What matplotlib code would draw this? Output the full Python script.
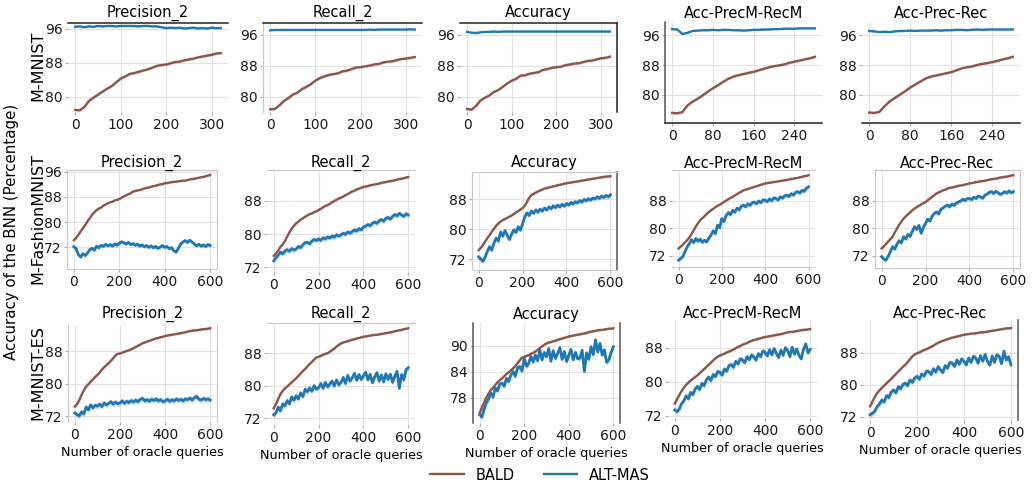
import numpy as np
import matplotlib
matplotlib.use("Agg")
import matplotlib.pyplot as plt
from matplotlib.lines import Line2D

# ---------------- data ----------------
queries_mnist = np.arange(0, 321, 10)      # M-MNIST, first three metrics
queries_mnist_b = np.arange(0, 281, 10)    # M-MNIST, combined metrics
queries_600 = np.arange(0, 601, 10)        # M-FashionMNIST and M-MNIST-ES

metrics = ['Precision_2', 'Recall_2', 'Accuracy', 'Acc-PrecM-RecM', 'Acc-Prec-Rec']
datasets = ['M-MNIST', 'M-FashionMNIST', 'M-MNIST-ES']
methods = ['BALD', 'ALT-MAS']

# M-MNIST
mnist_prec_bald = [76.9,76.8,77.6,79.0,79.8,80.5,81.2,81.9,82.5,83.4,84.3,84.8,85.4,85.6,85.9,86.2,86.5,86.9,87.3,87.5,87.6,87.9,88.2,88.3,88.6,88.8,89.0,89.3,89.5,89.7,89.9,90.2,90.3]
mnist_prec_alt = [96.5,96.6,96.4,96.6,96.5,96.7,96.6,96.7,96.7,96.6,96.7,96.7,96.7,96.7,96.6,96.7,96.7,96.6,96.6,96.4,96.2,96.3,96.2,96.3,96.1,96.2,96.3,96.1,96.2,96.1,96.3,96.2,96.2]
mnist_rec_bald = [76.8,76.9,77.8,78.9,79.7,80.6,81.1,82.0,82.6,83.3,84.2,84.9,85.3,85.7,85.9,86.1,86.6,86.8,87.2,87.6,87.7,87.9,88.1,88.4,88.5,88.9,89.1,89.2,89.5,89.8,89.9,90.1,90.3]
mnist_rec_alt = [97.2,97.3,97.3,97.3,97.3,97.3,97.3,97.3,97.3,97.3,97.3,97.3,97.3,97.3,97.3,97.3,97.3,97.3,97.3,97.3,97.3,97.3,97.4,97.3,97.4,97.4,97.4,97.4,97.4,97.4,97.4,97.5,97.4]
mnist_acc_bald = [76.9,76.7,77.7,79.1,79.8,80.4,81.3,81.8,82.6,83.5,84.2,84.7,85.5,85.6,86.0,86.2,86.4,87.0,87.2,87.5,87.7,87.8,88.2,88.4,88.6,88.7,89.0,89.3,89.4,89.7,90.0,90.1,90.4]
mnist_acc_alt = [96.8,96.6,96.5,96.7,96.8,96.8,96.9,96.8,96.9,96.9,96.9,96.9,96.9,96.9,96.9,96.9,96.9,96.9,96.9,96.9,96.9,96.9,96.9,96.9,96.9,96.9,96.9,96.9,96.9,96.9,96.9,96.9,96.9]
mnist_aprm_bald = [75.2,75.1,75.4,77.2,78.2,79.0,79.9,80.9,81.8,82.6,83.5,84.3,84.9,85.3,85.6,85.9,86.2,86.6,87.0,87.4,87.7,87.9,88.2,88.6,88.9,89.2,89.5,89.8,90.2]
mnist_aprm_alt = [97.6,97.5,96.3,96.6,97.1,97.2,97.3,97.3,97.4,97.3,97.4,97.4,97.3,97.3,97.2,97.3,97.4,97.4,97.5,97.5,97.6,97.6,97.7,97.7,97.7,97.8,97.8,97.8,97.8]
mnist_apr_bald = [75.3,75.2,75.5,77.0,78.3,79.2,80.1,81.0,82.0,82.8,83.6,84.4,84.9,85.2,85.5,85.8,86.1,86.6,87.1,87.4,87.6,88.0,88.3,88.5,88.8,89.1,89.5,89.8,90.2]
mnist_apr_alt = [97.1,97.0,96.8,96.9,96.8,97.0,97.1,97.1,97.2,97.1,97.2,97.2,97.2,97.3,97.2,97.3,97.3,97.4,97.4,97.3,97.4,97.5,97.4,97.5,97.5,97.5,97.5,97.5,97.5]

# M-FashionMNIST
fash_prec_bald = [74.2,74.9,75.9,77.0,78.0,79.0,80.2,81.2,82.3,83.1,
                  83.8,84.3,84.6,85.2,85.6,86.0,86.3,86.5,86.9,87.1,
                  87.3,87.8,88.2,88.5,88.9,89.2,89.7,89.9,90.1,90.2,
                  90.4,90.7,90.9,91.0,91.3,91.4,91.6,91.8,92.0,92.1,
                  92.4,92.4,92.6,92.7,92.8,92.9,93.0,93.1,93.2,93.2,
                  93.4,93.6,93.7,93.8,94.0,94.1,94.3,94.4,94.6,94.8,95.0]
fash_prec_alt = [72.1,71.5,69.6,68.8,69.9,69.3,70.1,71.2,71.6,71.0,
                 72.3,71.8,72.6,72.2,72.9,72.4,72.8,72.3,73.0,72.6,
                 73.2,73.7,73.4,73.0,73.5,72.8,73.1,72.6,72.9,72.3,
                 72.7,72.1,72.5,71.9,72.4,71.8,72.2,71.6,72.0,72.5,
                 71.9,72.2,71.5,71.8,70.8,70.4,71.6,73.0,73.6,74.1,
                 73.5,74.2,73.6,73.0,72.4,72.9,72.3,72.7,72.2,72.8,72.5]
fash_rec_bald = [74.7,75.3,76.0,76.9,77.5,78.3,79.4,80.4,81.3,82.0,
                 82.6,83.0,83.5,83.8,84.2,84.5,84.8,85.0,85.3,85.5,
                 85.8,86.1,86.5,86.8,87.0,87.3,87.7,88.0,88.3,88.6,
                 88.8,89.1,89.4,89.7,90.0,90.3,90.5,90.8,91.0,91.2,
                 91.4,91.5,91.6,91.8,91.9,92.0,92.1,92.2,92.4,92.5,
                 92.6,92.7,92.8,92.9,93.0,93.2,93.3,93.4,93.5,93.7,93.8]
fash_rec_alt = [73.5,74.3,74.9,75.6,75.2,75.9,76.2,75.8,76.5,76.1,
                76.4,77.0,76.7,77.4,77.9,78.0,77.6,78.3,78.7,78.4,
                78.8,78.5,79.1,78.8,79.3,79.0,79.5,79.2,79.8,79.5,
                79.8,80.2,79.9,80.5,80.2,80.6,81.0,80.7,81.3,81.0,
                81.7,81.9,82.3,82.0,82.6,82.9,82.6,83.2,83.5,83.1,
                83.8,84.0,83.6,84.3,84.7,84.4,85.0,84.6,84.3,84.9,84.6]
fash_acc_bald = [74.4,75.0,75.8,76.7,77.6,78.4,79.3,80.1,80.9,81.5,
                 82.0,82.4,82.7,83.0,83.3,83.6,84.0,84.4,84.8,85.2,
                 85.6,86.2,87.2,88.3,89.0,89.4,89.7,90.0,90.3,90.5,
                 90.8,90.9,91.1,91.2,91.4,91.5,91.7,91.8,91.9,92.1,
                 92.2,92.3,92.4,92.5,92.6,92.7,92.8,92.9,93.0,93.1,
                 93.2,93.3,93.4,93.5,93.6,93.7,93.8,93.9,94.0,94.0,94.1]
fash_acc_alt = [72.6,72.0,71.4,72.6,74.1,75.3,74.4,76.3,77.6,76.8,
                79.2,78.1,79.6,78.4,77.2,78.6,79.8,79.1,80.6,79.7,
                81.4,83.2,84.3,83.6,84.8,84.2,85.1,84.5,85.3,84.8,
                85.6,85.1,85.9,85.4,86.2,85.7,86.4,85.9,86.6,86.1,
                86.8,86.4,87.1,86.7,87.3,87.0,87.6,87.2,87.9,87.5,
                88.1,87.7,88.3,88.0,88.6,88.2,88.8,88.4,89.0,88.6,89.1]
fash_aprm_bald = [74.1,74.6,75.2,75.9,76.5,77.2,78.3,79.4,80.5,81.4,
                  82.3,82.9,83.5,84.1,84.7,85.2,85.6,86.1,86.5,86.8,
                  87.2,87.6,88.0,88.4,88.8,89.1,89.5,89.9,90.3,90.6,
                  91.0,91.2,91.4,91.6,91.8,92.0,92.2,92.4,92.6,92.8,
                  93.0,93.1,93.2,93.3,93.4,93.5,93.6,93.7,93.8,93.9,
                  94.0,94.1,94.3,94.4,94.5,94.6,94.8,94.9,95.1,95.2,95.4]
fash_aprm_alt = [70.7,71.2,71.7,73.2,74.6,75.5,76.6,75.8,77.0,76.2,
                 76.8,75.9,76.5,76.0,77.1,78.0,79.2,78.4,80.9,80.1,
                 82.8,81.9,83.7,84.5,83.9,85.2,84.6,85.8,85.3,86.4,
                 86.7,86.2,87.1,86.6,87.4,87.6,87.1,87.9,87.4,88.2,
                 88.1,87.7,88.5,88.0,88.8,88.6,88.2,89.1,88.7,89.4,
                 89.6,89.2,90.0,89.6,90.4,90.6,90.2,91.0,90.7,91.6,92.0]
fash_apr_bald = [74.1,74.7,75.4,76.1,76.8,77.5,78.7,79.9,81.0,81.9,
                 82.8,83.4,84.0,84.6,85.2,85.7,86.1,86.5,86.9,87.3,
                 87.6,88.1,88.6,89.1,89.6,90.1,90.4,90.7,91.0,91.2,
                 91.5,91.7,91.8,92.0,92.1,92.3,92.4,92.5,92.7,92.8,
                 93.0,93.1,93.2,93.4,93.5,93.6,93.7,93.8,93.9,94.1,
                 94.2,94.3,94.4,94.5,94.7,94.8,94.9,95.0,95.1,95.3,95.4]
fash_apr_alt = [71.7,71.0,70.7,71.8,73.2,74.6,73.9,75.4,76.3,75.7,
                77.5,76.8,78.2,77.6,79.1,80.4,79.6,80.8,78.5,80.2,
                81.4,82.6,82.0,83.5,84.3,84.7,84.1,85.5,85.9,86.4,
                86.7,86.2,87.0,86.6,87.3,87.6,87.9,88.4,88.0,88.6,
                88.6,88.3,89.0,88.6,89.3,89.1,88.7,89.6,89.9,90.4,
                90.6,90.1,90.7,90.3,89.8,90.1,90.6,90.2,90.8,90.3,90.6]

# M-MNIST-ES
es_prec_bald = [74.4,75.0,76.0,77.3,78.4,79.3,79.9,80.5,81.1,81.7,
                82.2,82.8,83.5,84.1,84.6,85.1,85.7,86.3,87.0,87.4,
                87.5,87.7,87.9,88.1,88.3,88.5,88.8,89.1,89.4,89.7,
                90.0,90.2,90.4,90.6,90.8,91.0,91.2,91.3,91.5,91.6,
                91.8,91.9,92.0,92.1,92.2,92.3,92.4,92.5,92.6,92.7,
                92.9,93.0,93.1,93.2,93.2,93.3,93.4,93.5,93.5,93.6,93.7]
es_prec_alt = [72.8,72.4,72.1,73.1,72.6,74.3,73.6,74.8,74.1,74.7,
               74.5,75.0,74.4,75.3,74.8,75.2,75.6,75.0,75.5,75.1,
               75.3,75.8,75.2,75.7,75.4,75.9,75.5,76.0,75.6,76.2,
               76.4,75.8,76.1,75.7,76.2,75.9,76.3,75.8,76.1,75.6,
               75.8,76.2,75.7,76.1,75.8,76.3,75.9,76.2,75.8,76.3,
               76.1,76.5,76.0,76.6,76.9,76.2,76.0,76.4,76.1,76.3,76.0]
es_rec_bald = [74.5,75.6,76.8,78.0,78.8,79.4,79.9,80.4,80.9,81.4,
               81.9,82.5,83.1,83.7,84.2,84.8,85.4,85.9,86.5,87.0,
               87.2,87.4,87.7,87.9,88.1,88.4,88.8,89.2,89.7,90.1,
               90.5,90.7,90.9,91.0,91.2,91.4,91.5,91.7,91.8,92.0,
               92.1,92.2,92.3,92.4,92.5,92.6,92.6,92.7,92.8,92.9,
               93.0,93.1,93.2,93.3,93.5,93.6,93.7,93.8,94.0,94.1,94.2]
es_rec_alt = [72.9,73.4,74.8,73.9,75.6,75.1,76.4,75.6,77.3,76.5,
              77.6,76.8,78.3,77.4,79.2,78.6,79.5,78.7,80.1,79.2,
              79.6,80.6,79.4,80.9,79.8,80.5,81.2,80.0,81.5,80.3,
              80.9,82.1,80.6,82.6,81.2,82.0,83.1,81.4,82.8,81.6,
              82.5,83.4,81.5,82.9,80.8,82.2,83.3,81.2,82.7,81.0,
              83.0,81.6,82.9,80.9,82.4,83.6,79.4,82.8,81.5,84.0,84.5]
es_acc_bald = [74.5,75.8,77.0,78.1,79.0,79.8,80.4,81.0,81.6,82.1,
               82.5,83.0,83.5,83.9,84.4,84.8,85.4,86.0,86.7,87.3,
               87.5,87.7,87.9,88.2,88.4,88.7,89.1,89.5,89.9,90.3,
               90.6,90.8,90.9,91.1,91.2,91.4,91.6,91.7,91.9,92.0,
               92.2,92.3,92.4,92.5,92.6,92.7,92.8,92.9,93.0,93.2,
               93.3,93.4,93.5,93.6,93.7,93.7,93.8,93.9,94.0,94.0,94.1]
es_acc_alt = [74.1,73.6,75.4,76.9,77.8,79.1,78.2,80.3,79.6,81.2,
              81.4,80.7,82.5,81.8,83.3,84.1,83.0,85.0,85.2,84.2,
              87.2,85.3,86.0,87.6,86.3,87.9,86.6,89.1,86.8,88.5,
              87.5,89.4,86.5,88.9,87.1,88.3,89.6,86.9,88.7,86.4,
              87.9,89.2,86.8,88.5,87.0,87.2,89.0,84.1,88.4,86.9,
              89.8,88.0,91.4,88.6,90.6,87.9,89.1,86.2,86.8,88.5,89.8]
es_aprm_bald = [74.9,75.9,76.9,77.8,78.6,79.3,79.8,80.3,80.7,81.1,
                81.5,82.0,82.5,83.0,83.5,84.0,84.5,85.0,85.5,85.9,
                86.2,86.4,86.6,86.9,87.1,87.3,87.6,87.9,88.2,88.4,
                88.7,88.9,89.1,89.4,89.6,89.8,89.9,90.1,90.2,90.4,
                90.5,90.6,90.7,90.8,90.9,91.0,91.1,91.2,91.3,91.5,
                91.6,91.7,91.7,91.8,91.9,92.0,92.1,92.2,92.2,92.3,92.4]
es_aprm_alt = [73.4,73.0,73.6,74.9,75.5,76.7,76.0,77.5,77.0,78.3,
               78.9,78.2,79.6,79.1,80.5,81.1,80.3,81.7,81.2,82.4,
               82.2,81.6,83.0,82.5,83.8,84.0,83.4,84.8,84.2,85.4,
               85.1,84.5,85.9,85.2,86.3,85.8,85.1,86.6,85.9,87.2,
               86.9,86.1,87.5,86.3,87.8,86.6,85.7,87.4,86.2,88.0,
               87.3,85.9,88.1,86.5,87.7,86.2,85.4,87.6,88.9,86.8,87.6]
es_apr_bald = [74.6,75.8,76.9,77.9,78.6,79.2,79.8,80.4,80.9,81.5,
               82.1,82.7,83.3,83.9,84.5,85.0,85.7,86.4,87.1,87.6,
               87.9,88.1,88.4,88.7,88.9,89.2,89.5,89.8,90.2,90.5,
               90.8,91.0,91.2,91.4,91.6,91.8,91.9,92.1,92.2,92.4,
               92.5,92.6,92.7,92.8,92.8,92.9,93.0,93.1,93.1,93.2,
               93.3,93.4,93.5,93.6,93.7,93.8,93.9,94.0,94.1,94.1,94.2]
es_apr_alt = [72.5,72.9,73.4,74.6,75.2,76.2,75.7,77.3,76.8,78.2,
              78.7,78.0,79.5,79.0,80.1,80.4,79.8,81.2,80.6,81.7,
              82.1,81.4,82.7,82.2,83.4,83.3,82.6,84.0,83.2,84.5,
              83.7,83.1,84.8,84.2,85.6,85.4,84.6,86.2,85.1,86.5,
              85.8,85.0,86.7,85.6,87.1,86.7,85.4,87.3,85.9,87.6,
              85.8,84.9,87.2,85.6,87.5,87.1,85.3,88.4,86.2,87.0,85.0]

# spread (std) of the runs, per dataset row
bald_std = [0.3, 0.25, 0.25]
alt_std = [0.15, 0.6, 0.7]

series = [
    [(queries_mnist, mnist_prec_bald, mnist_prec_alt),
     (queries_mnist, mnist_rec_bald, mnist_rec_alt),
     (queries_mnist, mnist_acc_bald, mnist_acc_alt),
     (queries_mnist_b, mnist_aprm_bald, mnist_aprm_alt),
     (queries_mnist_b, mnist_apr_bald, mnist_apr_alt)],
    [(queries_600, fash_prec_bald, fash_prec_alt),
     (queries_600, fash_rec_bald, fash_rec_alt),
     (queries_600, fash_acc_bald, fash_acc_alt),
     (queries_600, fash_aprm_bald, fash_aprm_alt),
     (queries_600, fash_apr_bald, fash_apr_alt)],
    [(queries_600, es_prec_bald, es_prec_alt),
     (queries_600, es_rec_bald, es_rec_alt),
     (queries_600, es_acc_bald, es_acc_alt),
     (queries_600, es_aprm_bald, es_aprm_alt),
     (queries_600, es_apr_bald, es_apr_alt)],
]

yticks = [
    [[80, 88, 96]] * 5,
    [[72, 80, 88, 96], [72, 80, 88], [72, 80, 88], [72, 80, 88], [72, 80, 88]],
    [[72, 80, 88], [72, 80, 88], [78, 84, 90], [72, 80, 88], [72, 80, 88]],
]
xticks = [
    [[0, 100, 200, 300]] * 3 + [[0, 80, 160, 240]] * 2,
    [[0, 200, 400, 600]] * 5,
    [[0, 200, 400, 600]] * 5,
]

# ---------------- layout / style ----------------
W, H = 1032, 491
boxes = [
    [(68, 23, 228, 112), (263, 23, 422, 112), (460, 23, 617, 112), (665, 22, 822, 123), (862, 22, 1020, 123)],
    [(67, 170, 217, 269), (267, 170, 415, 272), (472, 172, 617, 270), (672, 170, 815, 267), (875, 170, 1020, 268)],
    [(68, 325, 217, 422), (267, 323, 415, 425), (473, 323, 620, 423), (668, 320, 817, 418), (863, 320, 1018, 420)],
]
ylims = [
    [(76.4, 97.4), (76.1, 99.1), (76.1, 99.1), (72.5, 99.5), (72.5, 99.5)],
    [(65.0, 96.6), (70.8, 95.5), (69.1, 95.2), (68.7, 96.9), (68.4, 96.9)],
    [(70.6, 94.5), (70.4, 95.5), (72.2, 95.3), (71.5, 94.5), (71.2, 96.2)],
]
LG = '#c8c8c8'
DK = '#222222'
MD = '#555555'
spine_spec = [
    [dict(top=DK, left=None, right=None, bottom=None),
     dict(top=DK, left=LG, right=None, bottom=None),
     dict(top=DK, left=None, right=DK, bottom=None),
     dict(top=None, left=MD, right=None, bottom=DK),
     dict(top=None, left=None, right=None, bottom=DK)],
    [dict(top=LG, left=LG, right=LG, bottom=LG),
     dict(top=LG, left=None, right=None, bottom=None),
     dict(top=LG, left=LG, right=MD, bottom=LG),
     dict(top=LG, left=None, right=None, bottom=LG),
     dict(top=LG, left=LG, right=LG, bottom=LG)],
    [dict(top=None, left=LG, right=LG, bottom=None),
     dict(top=LG, left=None, right=None, bottom=None),
     dict(top=None, left=MD, right=MD, bottom=None),
     dict(top=None, left=None, right=None, bottom=None),
     dict(top=None, left=None, right=MD, bottom=None)],
]
title_y = [13, 163, 314]
alt_lw = [1.7, 2.0, 2.0]

C_BALD = '#8c564b'
C_ALT = '#1f77b4'

plt.rcParams['font.family'] = ['DejaVu Sans']
fig = plt.figure(figsize=(W / 100, H / 100), dpi=100)

for r in range(3):
    for c in range(5):
        l, t, rr, b = boxes[r][c]
        ax = fig.add_axes([l / W, 1 - b / H, (rr - l) / W, (b - t) / H])
        x, yb, ya = series[r][c]
        yb = np.asarray(yb)
        ya = np.asarray(ya)
        ax.fill_between(x, yb - bald_std[r], yb + bald_std[r], color=C_BALD, alpha=0.25, lw=0)
        ax.fill_between(x, ya - alt_std[r], ya + alt_std[r], color=C_ALT, alpha=0.25, lw=0)
        ax.plot(x, yb, color=C_BALD, lw=1.7)
        ax.plot(x, ya, color=C_ALT, lw=alt_lw[r])
        ax.margins(x=0.05)
        ax.set_ylim(*ylims[r][c])
        ax.set_yticks(yticks[r][c])
        ax.set_xticks(xticks[r][c])
        ax.grid(True, color='#e2e2e2', lw=0.8)
        ax.set_axisbelow(True)
        ax.tick_params(labelsize=10, length=2, color='#aaaaaa', pad=2, labelcolor='#1a1a1a')
        for side, col in spine_spec[r][c].items():
            if col is None:
                ax.spines[side].set_visible(False)
            else:
                ax.spines[side].set_color(col)
                ax.spines[side].set_linewidth(1.1 if col != LG else 0.8)
        fig.text((l + rr) / 2 / W, 1 - title_y[r] / H, metrics[c], ha='center', va='center', fontsize=10.5)
        if r == 2:
            ax.set_xlabel('Number of oracle queries', fontsize=9.2, labelpad=3)

row_label_y = [66, 219, 373]
for r in range(3):
    fig.text(38 / W, 1 - row_label_y[r] / H, datasets[r], rotation=90, ha='center', va='center', fontsize=11.5)
fig.text(12 / W, 1 - 232 / H, 'Accuracy of the BNN (Percentage)', rotation=90, ha='center', va='center', fontsize=10.8)

handles = [Line2D([], [], color=C_BALD, lw=1.7), Line2D([], [], color=C_ALT, lw=1.7)]
fig.legend(handles, methods, loc='center', bbox_to_anchor=(540 / W, 1 - 475 / H), ncol=2, frameon=False,
           fontsize=10.5, handlelength=2.3, handletextpad=0.8, columnspacing=2.0)

fig.savefig('out.png', dpi=100)
